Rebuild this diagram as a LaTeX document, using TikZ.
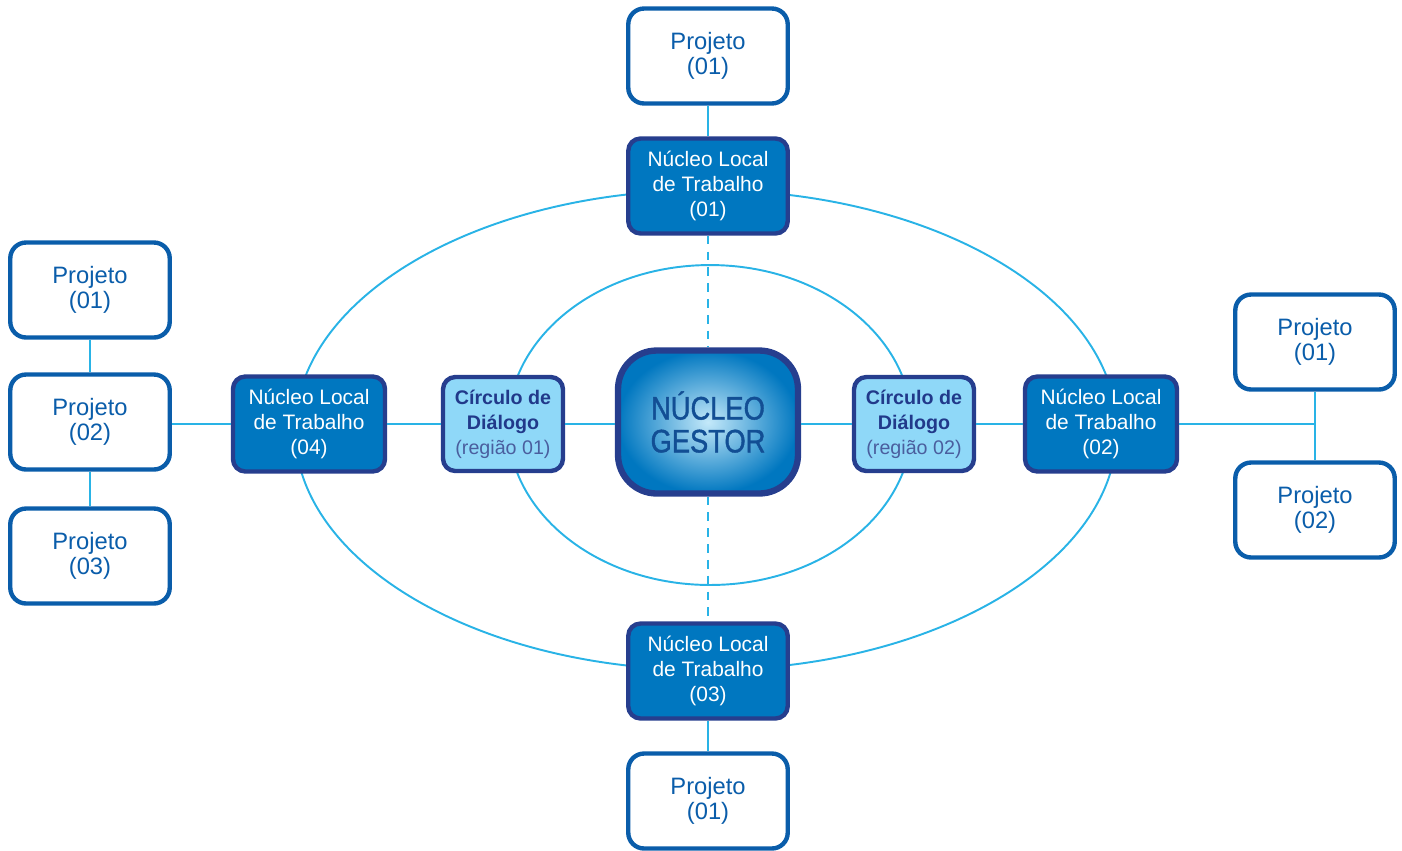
\documentclass[tikz,border=0pt]{standalone}
\usepackage{fontspec}
\setmainfont{Liberation Sans}
\newfontfamily\condfont{Liberation Sans}[FakeStretch=0.84, FakeBold=1.2]
\usetikzlibrary{positioning}
\definecolor{linkblue}{HTML}{29B3E6}
\definecolor{projblue}{HTML}{0A5DAA}
\definecolor{navy}{HTML}{263E8E}
\definecolor{nucfill}{HTML}{0077C0}
\definecolor{circfill}{HTML}{8FD8F8}
\definecolor{circtext}{HTML}{21398A}
\definecolor{regtext}{HTML}{4A5E9E}
\definecolor{gestext}{HTML}{124E94}
\definecolor{gescore}{HTML}{C4E9FA}

\begin{document}
\begin{tikzpicture}[x=0.02cm, y=-0.02cm,
  projeto/.style={draw=projblue, line width=2.5pt, fill=white, rounded corners=9pt,
    minimum width=3.19cm, minimum height=1.9cm, align=center, text=projblue,
    font=\fontsize{13.5}{14.2}\selectfont},
  nucleo/.style={draw=navy, line width=2.5pt, fill=nucfill, rounded corners=7pt,
    minimum width=3.19cm, minimum height=1.9cm, align=center, text=white,
    font=\fontsize{11.9}{14.2}\selectfont},
  circulo/.style={draw=navy, line width=2.5pt, fill=circfill, rounded corners=7pt,
    minimum width=2.4cm, minimum height=1.88cm, align=center, text=circtext,
    font=\fontsize{11.2}{14.2}\selectfont\bfseries},
  gestor/.style={draw=navy, line width=3.6pt, shading=radial, inner color=gescore,
    outer color=nucfill, rounded corners=22pt, minimum width=3.6cm, minimum height=2.86cm,
    align=center, text=gestext, font=\condfont\fontsize{18.5}{18.7}\selectfont},
  link/.style={draw=linkblue, line width=1.1pt},
  dlink/.style={link, dash pattern=on 5pt off 4pt}
]
  \useasboundingbox (0,0) rectangle (1402,850);

  % rings
  \draw[link] (706,430) ellipse [x radius=8.22cm, y radius=4.8cm];
  \draw[link] (710,425) ellipse [x radius=4.04cm, y radius=3.2cm];

  \node[gestor] (gestor) at (708,422) {NÚCLEO\\GESTOR};

  \node[nucleo] (nlt1) at (708,186) {Núcleo Local\\de Trabalho\\(01)};
  \node[nucleo, minimum width=3.04cm] (nlt2) at (1101,424) {Núcleo Local\\de Trabalho\\(02)};
  \node[nucleo] (nlt3) at (708,671) {Núcleo Local\\de Trabalho\\(03)};
  \node[nucleo, minimum width=3.04cm] (nlt4) at (309,424) {Núcleo Local\\de Trabalho\\(04)};

  \node[circulo] (circ1) at (503,424) {Círculo de\\Diálogo\\{\mdseries\color{regtext}(região 01)}};
  \node[circulo] (circ2) at (914,424) {Círculo de\\Diálogo\\{\mdseries\color{regtext}(região 02)}};

  \node[projeto] (top1) at (708,56) {Projeto\\(01)};
  \node[projeto] (bot1) at (708,801) {Projeto\\(01)};
  \node[projeto] (left1) at (90,290) {Projeto\\(01)};
  \node[projeto] (left2) at (90,422) {Projeto\\(02)};
  \node[projeto] (left3) at (90,556) {Projeto\\(03)};
  \node[projeto] (right1) at (1315,342) {Projeto\\(01)};
  \node[projeto] (right2) at (1315,510) {Projeto\\(02)};
  \coordinate (fork) at (1315,424);

  % links
  \draw[link] (top1) -- (nlt1);
  \draw[dlink] (nlt1) -- (gestor);
  \draw[dlink] (gestor) -- (nlt3);
  \draw[link] (nlt3) -- (bot1);
  \draw[link] (left1) -- (left2);
  \draw[link] (left2) -- (left3);
  \draw[link] (left2.east |- nlt4) -- (nlt4);
  \draw[link] (nlt4) -- (circ1);
  \draw[link] (circ1) -- (gestor.west |- circ1);
  \draw[link] (gestor.east |- circ2) -- (circ2);
  \draw[link] (circ2) -- (nlt2);
  \draw[link] (nlt2) -- (fork);
  \draw[link] (right1) -- (right2);
\end{tikzpicture}
\end{document}
